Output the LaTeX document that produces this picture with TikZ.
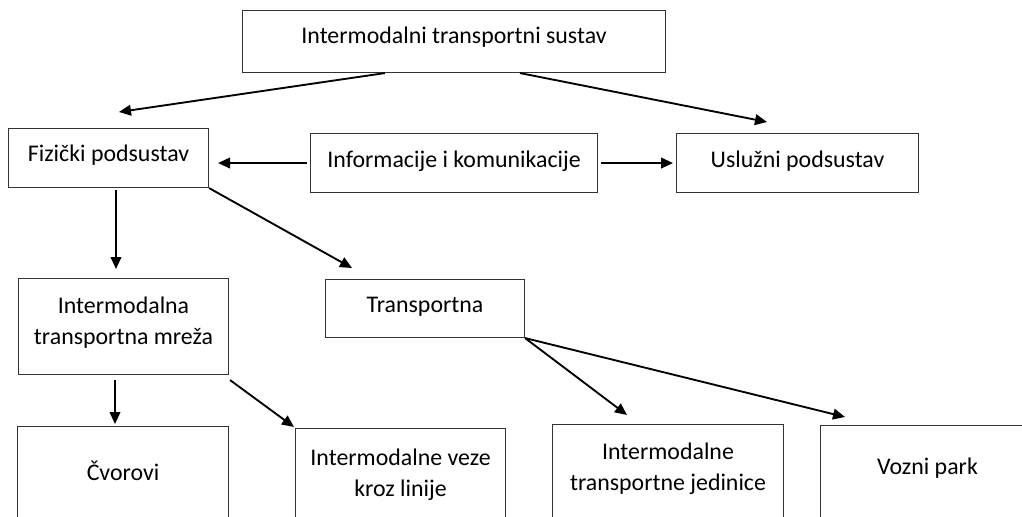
\documentclass[tikz,border=0pt]{standalone}
\usepackage{fontspec}
\setmainfont{Carlito}
\usetikzlibrary{arrows.meta,calc}
\newcommand{\bt}[4]{\parbox[t][#2][t]{#1}{\centering\rule{0pt}{\dimexpr#3+2.3pt\relax}#4}}
\begin{document}
\begin{tikzpicture}[x=0.75pt,y=-0.75pt,
 box/.style={draw=black!80, line width=0.8pt, inner sep=0pt, anchor=north west, font=\fontsize{17.9}{23.2}\selectfont},
 arr/.style={-{Triangle[length=9pt,width=8pt]}, line width=1.4pt}]
\useasboundingbox (0,0) rectangle (1022,517);
\clip (0,0) rectangle (1022,517);
\node[box] (T) at (242,10) {\bt{317.25pt}{46.5pt}{22.5pt}{Intermodalni transportni sustav}};
\node[box] (F) at (8,128) {\bt{150pt}{44.25pt}{22.5pt}{Fizički podsustav}};
\node[box] (I) at (310,133) {\bt{215.25pt}{44.25pt}{23.25pt}{Informacije i komunikacije}};
\node[box] (U) at (676,133) {\bt{181.5pt}{44.25pt}{23.25pt}{Uslužni podsustav}};
\node[box] (M) at (18,278) {\bt{157.5pt}{72pt}{24pt}{Intermodalna\\transportna mreža}};
\node[box] (R) at (325,279) {\bt{149.25pt}{43.5pt}{22.5pt}{Transportna}};
\node[box] (C) at (17,426) {\bt{158.25pt}{90pt}{38.25pt}{Čvorovi}};
\node[box] (V) at (295,428) {\bt{157.5pt}{90pt}{25.5pt}{Intermodalne veze\\kroz linije}};
\node[box] (J) at (552,424) {\bt{173.25pt}{90pt}{24pt}{Intermodalne\\transportne jedinice}};
\node[box] (P) at (820,425) {\bt{160.5pt}{90pt}{34.5pt}{Vozni park}};
\draw[arr] ($(T.south west)+(143,0)$) -- ($(F.north west)+(111,-16)$);
\draw[arr] ($(T.south west)+(278,0)$) -- ($(U.north west)+(91,-11)$);
\draw[arr] ($(I.west)+(-3,0)$) -- ($(I.west -| F.east)+(9,0)$);
\draw[arr] ($(I.east)+(3,0)$) -- ($(U.west)+(-3,0)$);
\draw[arr] ($(F.south west)+(108,2)$) -- ($(M.north west)+(98,-9)$);
\draw[arr] (F.south east) -- ($(R.north west)+(27,-11)$);
\draw[arr] ($(M.south west)+(97,5)$) -- ($(C.north west)+(98,-2)$);
\draw[arr] ($(M.south east)+(1,5)$) -- ($(V.north west)+(-1,-1)$);
\draw[arr] (R.south east) -- ($(J.north west)+(75,-9)$);
\draw[arr] (R.south east) -- ($(P.north west)+(25,-8)$);
\end{tikzpicture}
\end{document}
